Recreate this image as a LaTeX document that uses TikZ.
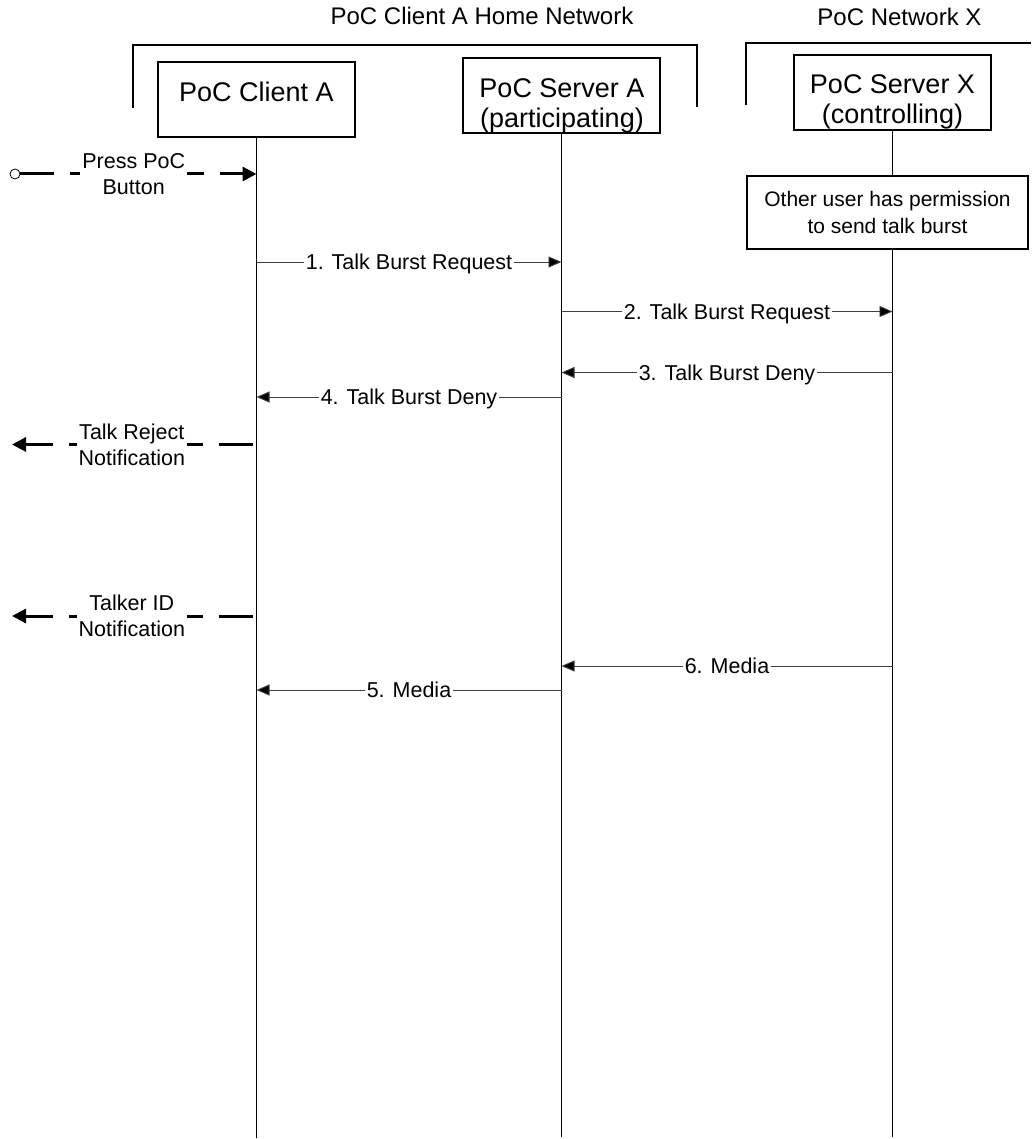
\documentclass[tikz,border=0pt]{standalone}
\usepackage{fontspec}
\setmainfont{Liberation Sans}
\usetikzlibrary{arrows.meta}
\newcommand\myfs[2]{\fontsize{#1}{#2}\selectfont}
\begin{document}
\begin{tikzpicture}[x=1pt,y=-1pt,
  box/.style={draw,line width=1.6pt,fill=white,inner sep=0pt,minimum width=197pt,minimum height=75pt},
  notebox/.style={draw,line width=1.1pt,fill=white,inner sep=0pt,minimum width=281pt,minimum height=73pt,align=center,font=\myfs{21}{27}},
  boxlbl/.style={inner sep=0pt,anchor=base,font=\myfs{27}{30}},
  ttl/.style={inner sep=0pt,font=\myfs{24}{28}},
  brk/.style={line width=1.6pt},
  life/.style={line width=1.7pt},
  msg/.style={draw=black!75,line width=0.9pt,-{Triangle[length=13pt,width=11pt,fill=black]}},
  mlbl/.style={fill=white,inner sep=1.5pt,text height=15.4pt,text depth=0pt,font=\myfs{21.5}{26}},
  dsh/.style={line width=3pt,dash pattern=on 34pt off 16pt,-{Triangle[length=14pt,width=14pt]}},
  dlbl/.style={fill=white,inner sep=2pt,align=center,font=\myfs{21.5}{26}}]
\useasboundingbox (0,0) rectangle (1031,1139);
% network titles and brackets
\node[ttl] (t1) at (482,16) {PoC Client A Home Network};
\node[ttl] (t2) at (899.5,17) {PoC Network X};
\draw[brk] (133,108) -- (133,45) -- (697,45) -- (697,107);
\draw[brk] (746,105) -- (746,43) -- (1031,43);
% entities
\node[box] (ca) at (256.5,99.5) {};
\node[box] (sa) at (561.5,95.5) {};
\node[box] (sx) at (892.5,92.5) {};
\node[boxlbl] (caL) at (256.5,102) {PoC Client A};
\node[boxlbl] (saL1) at (562,98) {PoC Server A};
\node[boxlbl] (saL2) at (562,128) {(participating)};
\node[boxlbl] (sxL1) at (892.5,93.5) {PoC Server X};
\node[boxlbl] (sxL2) at (892.5,123.5) {(controlling)};
% lifelines
\coordinate (caE) at (256,1138);
\coordinate (saE) at (562,1137);
\coordinate (sxE) at (892,1137);
\draw[life] (ca.south) -- (ca.south |- caE);
\draw[life] (sa.south) -- (sa.south |- saE);
\draw[life] (sx.south) -- (sx.south |- sxE);
\node[notebox] (ou) at (887.5,212.5) {Other user has permission\\to send talk burst};
% messages
\draw[msg] (ca.south |- 0,262) -- node[mlbl]{1. Talk Burst Request} (sa.south |- 0,262);
\draw[msg] (sa.south |- 0,311.5) -- node[mlbl]{2. Talk Burst Request} (sx.south |- 0,311.5);
\draw[msg] (sx.south |- 0,372.5) -- node[mlbl]{3. Talk Burst Deny} (sa.south |- 0,372.5);
\draw[msg] (sa.south |- 0,397) -- node[mlbl]{4. Talk Burst Deny} (ca.south |- 0,397);
\draw[msg] (sx.south |- 0,666) -- node[mlbl]{6. Media} (sa.south |- 0,666);
\draw[msg] (sa.south |- 0,690) -- node[mlbl]{5. Media} (ca.south |- 0,690);
% local user interactions
\node[circle,draw,line width=0.8pt,fill=white,inner sep=0pt,minimum size=10pt] (pb) at (15,174) {};
\draw[dsh] (pb.east) -- node[dlbl,pos=0.48]{Press PoC\\Button} (ca.south |- pb);
\coordinate (trEnd) at (12,444.5);
\draw[dsh,shorten <=4pt] (ca.south |- trEnd) -- node[dlbl,pos=0.51]{Talk Reject\\Notification} (trEnd);
\coordinate (tiEnd) at (12,616);
\draw[dsh,shorten <=4pt] (ca.south |- tiEnd) -- node[dlbl,pos=0.51]{Talker ID\\Notification} (tiEnd);
\end{tikzpicture}
\end{document}
